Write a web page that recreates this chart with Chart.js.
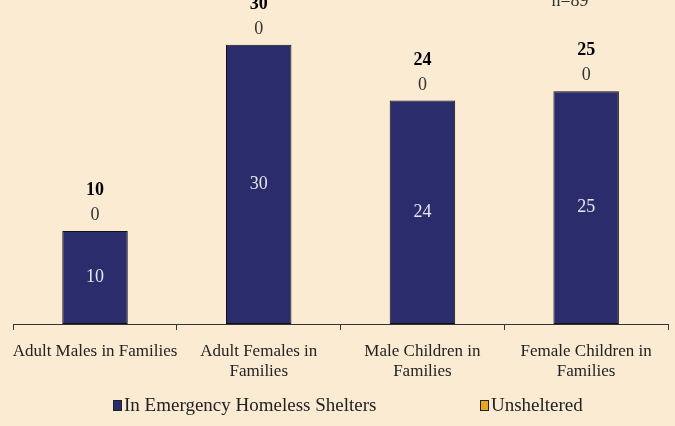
<!DOCTYPE html>
<html>
<head>
<meta charset="utf-8">
<script src="https://cdn.jsdelivr.net/npm/chart.js@4.4.1/dist/chart.umd.min.js"></script>
<style>
  html, body { margin: 0; padding: 0; background: #fbebd3; overflow: hidden; }
  canvas { display: block; }
</style>
</head>
<body>
<canvas id="chart" width="675" height="426"></canvas>
<script>
// Family members by shelter status
const categories = [
  'Adult Males in Families',
  ['Adult Females in', 'Families'],
  ['Male Children in', 'Families'],
  ['Female Children in', 'Families']
];
const shelteredValues = [10, 30, 24, 25];
const unshelteredValues = [0, 0, 0, 0];
const seriesNames = ['In Emergency Homeless Shelters', 'Unsheltered'];
const sampleNote = 'n=89';

const serif = '"Liberation Serif", "DejaVu Serif", serif';

// Value labels: white inside the shelter bar, unsheltered count above it, total in bold on top
const barLabels = {
  id: 'barLabels',
  afterDatasetsDraw(chart) {
    const ctx = chart.ctx;
    const lower = chart.getDatasetMeta(0).data;
    const upper = chart.getDatasetMeta(1).data;
    ctx.save();
    ctx.textAlign = 'center';
    lower.forEach((bar, i) => {
      const top = upper[i].y;
      ctx.font = '18px ' + serif;
      ctx.fillStyle = '#e6e6ee';
      ctx.textBaseline = 'middle';
      ctx.fillText(String(shelteredValues[i]), bar.x, (bar.y + bar.base) / 2);
      ctx.textBaseline = 'alphabetic';
      ctx.fillStyle = '#333';
      ctx.fillText(String(unshelteredValues[i]), bar.x, top - 11);
      ctx.font = 'bold 18px ' + serif;
      ctx.fillStyle = '#000';
      ctx.fillText(String(shelteredValues[i] + unshelteredValues[i]), bar.x, top - 36);
    });
    ctx.restore();
  }
};

// Sample size note and the legend row under the axis
const extras = {
  id: 'extras',
  afterDraw(chart) {
    const ctx = chart.ctx;
    ctx.save();
    ctx.font = '18px ' + serif;
    ctx.fillStyle = '#333';
    ctx.textAlign = 'center';
    ctx.textBaseline = 'alphabetic';
    ctx.fillText(sampleNote, 570, 6);

    const items = [
      { text: seriesNames[0], color: chart.data.datasets[0].backgroundColor, x: 113 },
      { text: seriesNames[1], color: chart.data.datasets[1].backgroundColor, x: 480 }
    ];
    ctx.font = '19px ' + serif;
    ctx.textAlign = 'left';
    ctx.textBaseline = 'middle';
    items.forEach(it => {
      ctx.fillStyle = it.color;
      ctx.fillRect(it.x, 400, 9, 11);
      ctx.strokeStyle = '#222';
      ctx.lineWidth = 1;
      ctx.strokeRect(it.x + 0.5, 400.5, 8, 10);
      ctx.fillStyle = '#222';
      ctx.fillText(it.text, it.x + 11, 406);
    });
    ctx.restore();
  }
};

new Chart(document.getElementById('chart'), {
  type: 'bar',
  data: {
    labels: categories,
    datasets: [
      {
        label: seriesNames[0],
        data: shelteredValues,
        backgroundColor: '#2a2c6b',
        borderColor: '#111',
        borderWidth: 1,
        borderSkipped: false,
        categoryPercentage: 1,
        barPercentage: 0.4
      },
      {
        label: seriesNames[1],
        data: unshelteredValues,
        backgroundColor: '#e9a623',
        borderColor: '#111',
        borderWidth: 0,
        categoryPercentage: 1,
        barPercentage: 0.4
      }
    ]
  },
  options: {
    responsive: false,
    animation: false,
    layout: { padding: { left: 13, right: 7, top: 0, bottom: 0 } },
    plugins: {
      legend: { display: false },
      tooltip: { enabled: false }
    },
    scales: {
      x: {
        stacked: true,
        afterFit(scale) { scale.height = 102; },
        border: { display: true, color: '#333', width: 1 },
        grid: { offset: true, drawOnChartArea: false, drawTicks: true, tickLength: 6, color: '#333' },
        ticks: {
          color: '#222',
          font: { family: serif, size: 17 },
          padding: 11,
          maxRotation: 0,
          autoSkip: false
        }
      },
      y: {
        stacked: true,
        display: false,
        min: 0,
        max: 34.8
      }
    }
  },
  plugins: [barLabels, extras]
});
</script>
</body>
</html>
